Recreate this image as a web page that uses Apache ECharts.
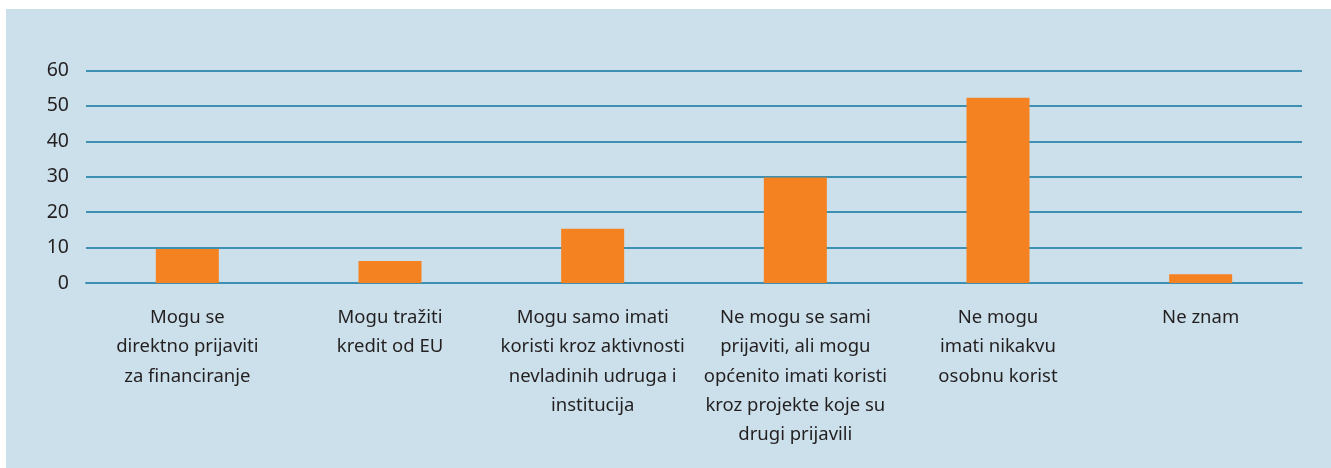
<!DOCTYPE html>
<html>
<head>
<meta charset="utf-8">
<script src="https://cdn.jsdelivr.net/npm/echarts@6/dist/echarts.min.js"></script>
<style>
html,body{margin:0;padding:0;background:#fff;width:1331px;height:468px;overflow:hidden;}
#bg{position:absolute;left:6px;top:9px;width:1325px;height:459px;background:#cce0eb;}
#chart{width:1325px;height:459px;}
</style>
</head>
<body>
<div id="bg"><div id="chart"></div></div>
<script>
const categories = [
  "Mogu se\ndirektno prijaviti\nza financiranje",
  "Mogu tražiti\nkredit od EU",
  "Mogu samo imati\nkoristi kroz aktivnosti\nnevladinih udruga i\ninstitucija",
  "Ne mogu se sami\nprijaviti, ali mogu\nopćenito imati koristi\nkroz projekte koje su\ndrugi prijavili",
  "Ne mogu\nimati nikakvu\nosobnu korist",
  "Ne znam"
];
const values = [9.6, 6.2, 15.3, 29.8, 52.3, 2.5];
const yTicks = [0, 10, 20, 30, 40, 50, 60];

const chart = echarts.init(document.getElementById('chart'), null, {renderer: 'canvas'});
chart.setOption({
  animation: false,
  backgroundColor: 'transparent',
  grid: {left: 80, right: 29, top: 61.5, bottom: 185, containLabel: false},
  xAxis: {
    type: 'category',
    data: categories,
    axisLine: {show: true, lineStyle: {color: '#3e90b3', width: 2}},
    axisTick: {show: false},
    axisLabel: {
      interval: 0,
      margin: 20,
      color: '#231f20',
      fontFamily: 'Noto Sans',
      fontSize: 18.5,
      lineHeight: 29.3,
      align: 'center'
    }
  },
  yAxis: {
    type: 'value',
    min: yTicks[0],
    max: yTicks[yTicks.length - 1],
    interval: 10,
    axisLine: {show: false},
    axisTick: {show: false},
    splitLine: {show: true, lineStyle: {color: '#3e90b3', width: 2}},
    axisLabel: {
      margin: 17,
      color: '#231f20',
      fontFamily: 'Noto Sans',
      fontSize: 19.5
    }
  },
  series: [{
    type: 'bar',
    data: values,
    barWidth: 63,
    itemStyle: {color: '#f58220'}
  }]
});
</script>
</body>
</html>
